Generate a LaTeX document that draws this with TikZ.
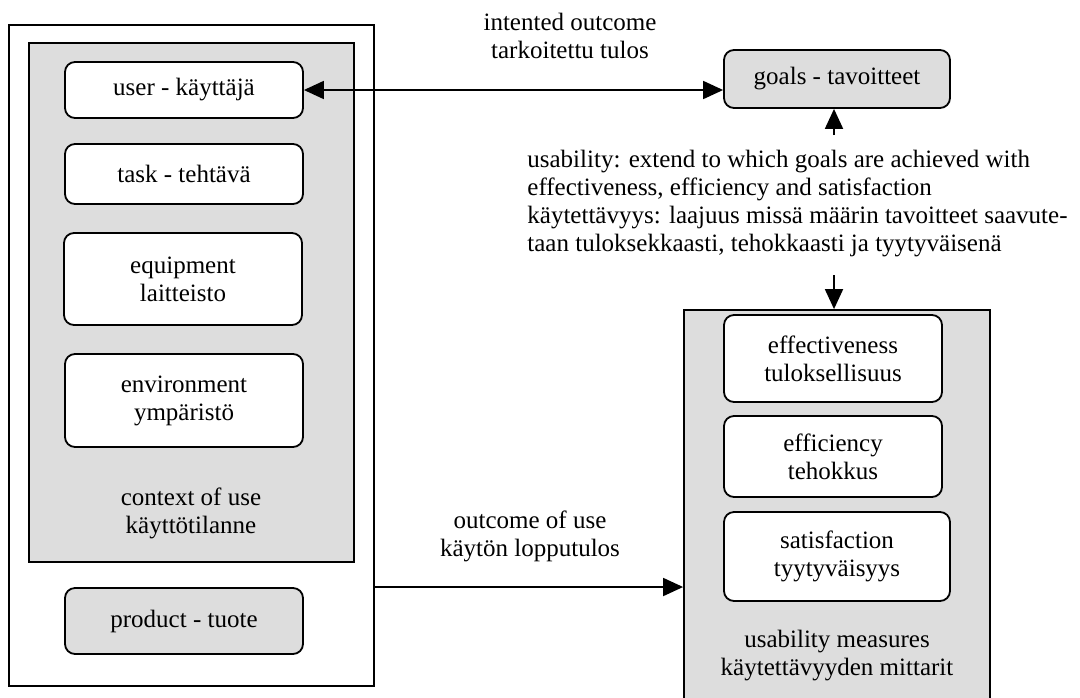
\documentclass[tikz,border=0pt]{standalone}
\usepackage{fontspec}
\setmainfont{Liberation Serif}
\usetikzlibrary{arrows.meta}
\definecolor{boxgray}{HTML}{DDDDDD}
\begin{document}
\begin{tikzpicture}[x=0.5pt,y=-0.5pt,
  every node/.style={font=\fontsize{12.5pt}{14pt}\selectfont, align=center, inner sep=0pt},
  frame/.style={draw, line width=0.9pt, rectangle},
  rbox/.style={draw, line width=0.9pt, rectangle, rounded corners=5pt, fill=white},
  gbox/.style={rbox, fill=boxgray},
  arr/.style={line width=0.9pt, -{Triangle[length=10pt,width=9pt]}},
  darr/.style={line width=0.9pt, {Triangle[length=10pt,width=9pt]}-{Triangle[length=10pt,width=9pt]}}]
\useasboundingbox (0,0) rectangle (1080,697);
\clip (0,0) rectangle (1080,697);
% left side
\node[frame, fill=white, minimum width=182.5pt, minimum height=330.5pt] (outer) at (191.5,355.5) {};
\node[frame, fill=boxgray, minimum width=162.5pt, minimum height=259.5pt] (ctx) at (191.5,302.5) {};
\node[rbox, minimum width=119pt, minimum height=28pt] (user) at (184,90) {user - käyttäjä};
\node[rbox, minimum width=119pt, minimum height=30pt] (task) at (184,174) {task - tehtävä};
\node[rbox, minimum width=119pt, minimum height=46pt] (equip) at (183,279) {equipment\\laitteisto};
\node[rbox, minimum width=119pt, minimum height=46.5pt] (env) at (184,400.5) {environment\\ympäristö};
\node (ctxlabel) at (191,513) {context of use\\käyttötilanne};
\node[gbox, minimum width=119pt, minimum height=33pt] (product) at (184,621) {product - tuote};
% right side
\node[gbox, minimum width=113pt, minimum height=29pt] (goals) at (837,79) {goals - tavoitteet};
\node[frame, fill=boxgray, minimum width=153pt, minimum height=195pt] (meas) at (837,505) {};
\node[rbox, minimum width=109pt, minimum height=43.5pt] (eff) at (833,358.5) {effectiveness\\tuloksellisuus};
\node[rbox, minimum width=109pt, minimum height=40.5pt] (effi) at (833,456.5) {efficiency\\tehokkus};
\node[rbox, minimum width=113pt, minimum height=44.5pt] (sat) at (837,556.5) {satisfaction\\tyytyväisyys};
\node (measlabel) at (837,656) {usability measures\\käytettävyyden mittarit};
% labels
\node (intlabel) at (570,36) {intented outcome\\tarkoitettu tulos};
\node (outlabel) at (530,536) {outcome of use\\käytön lopputulos};
\node[anchor=west, align=left] (usetext) at (527,204) {usability: extend to which goals are achieved with\\effectiveness, efficiency and satisfaction\\käytettävyys: laajuus missä määrin tavoitteet saavute-\\taan tuloksekkaasti, tehokkaasti ja tyytyväisenä};
% connectors
\draw[darr] (user.east) -- (user.east -| goals.west);
\coordinate (upstart) at (834,135);
\draw[arr] (upstart) -- (upstart |- goals.south);
\coordinate (downstart) at (834,275);
\draw[arr] (downstart) -- (downstart |- meas.north);
\coordinate (outy) at (0,587);
\draw[arr] (outy -| outer.east) -- (outy -| meas.west);
\end{tikzpicture}
\end{document}
